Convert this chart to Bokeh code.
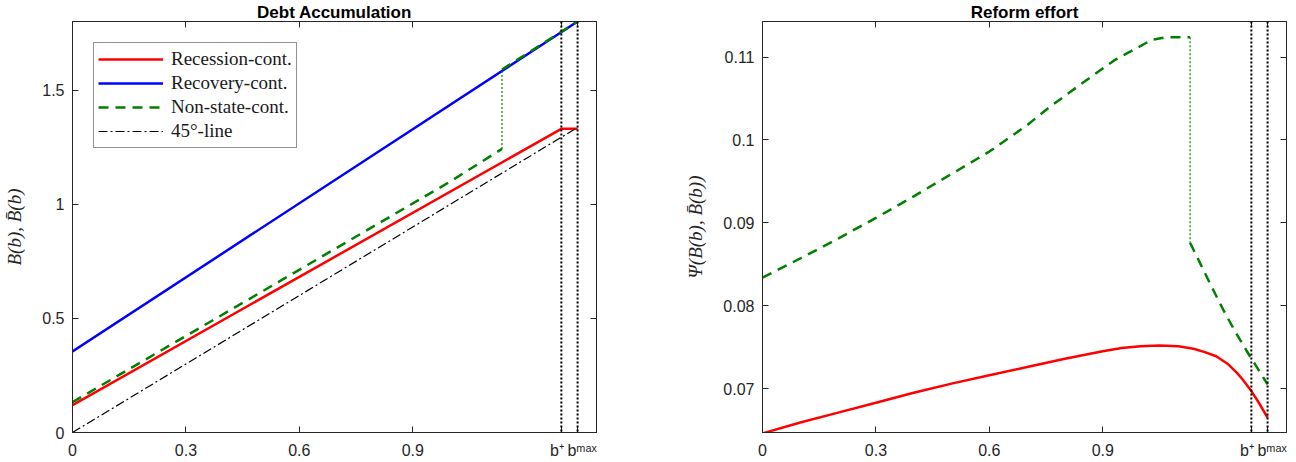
import numpy as np
from bokeh.plotting import figure
from bokeh.layouts import row
from bokeh.models import Range1d, FixedTicker, LinearAxis, Span, Legend, LegendItem
from bokeh.embed import file_html
from bokeh.resources import INLINE

# ---------------- data ----------------
b_plus = 1.293
b_max = 1.336
x_max = 1.386
NB = "\u00a0"
x_tick_values = [0.0, 0.3, 0.6, 0.9, b_plus, b_max]
x_tick_labels = ["0", "0.3", "0.6", "0.9", "b\u207a" + NB * 2,
                 NB * 2 + "b\u1d50\u1d43\u02e3"]

# Left panel: debt accumulation
rec_B_x = [0.0, b_plus, b_max]
rec_B_y = [0.120, 1.330, 1.330]
recov_B_x = [0.0, b_max]
recov_B_y = [0.355, 1.800]
ns_B_low_x = [0.0, 0.50, 1.00, 1.136]
ns_B_low_y = [0.133, 0.616, 1.100, 1.242]
ns_B_jump_x = [1.136, 1.136]
ns_B_jump_y = [1.242, 1.590]
ns_B_high_x = [1.136, b_max]
ns_B_high_y = [1.590, 1.800]
line45_x = [0.0, b_max]
line45_y = [0.0, b_max]
left_y_ticks = [0.0, 0.5, 1.0, 1.5]
left_y_labels = ["0", "0.5", "1", "1.5"]

# Right panel: reform effort
rec_psi_x = [0.0, 0.1, 0.2, 0.3, 0.4, 0.5, 0.6, 0.7, 0.8, 0.9, 0.95, 1.0, 1.05,
             1.1, 1.14, 1.17, 1.2, 1.23, 1.255, 1.27, 1.29, 1.31, b_max]
rec_psi_y = [0.0646, 0.0659, 0.0671, 0.0683, 0.0695, 0.0706, 0.0716, 0.0726,
             0.0736, 0.0745, 0.0749, 0.0751, 0.0752, 0.0751, 0.0748, 0.0744,
             0.0739, 0.0730, 0.0719, 0.0711, 0.0699, 0.0685, 0.0665]
ns_psi_high_x = [0.0, 0.1, 0.2, 0.3, 0.4, 0.5, 0.6, 0.7, 0.76, 0.85, 0.93,
                 0.97, 1.03, 1.07, 1.131]
ns_psi_high_y = [0.0834, 0.0857, 0.0881, 0.0906, 0.0932, 0.0959, 0.0986,
                 0.1018, 0.1040, 0.1070, 0.1096, 0.1106, 0.1121, 0.1124, 0.1124]
ns_psi_jump_x = [1.131, 1.131]
ns_psi_jump_y = [0.1124, 0.0876]
ns_psi_low_x = [1.131, 1.16, 1.19, 1.22, 1.25, 1.28, 1.31, b_max]
ns_psi_low_y = [0.0876, 0.0849, 0.0821, 0.0794, 0.0769, 0.0746, 0.0724, 0.0705]
right_y_ticks = [0.07, 0.08, 0.09, 0.10, 0.11]
right_y_labels = ["0.07", "0.08", "0.09", "0.1", "0.11"]
right_y_range = (0.0647, 0.1143)

# ---------------- styling ----------------
RED = "#ff0000"
BLUE = "#0000ff"
GREEN = "#008000"
AX = "#262626"
SANS = "Liberation Sans"
SERIF = "Liberation Serif"


def style_axes(p, yticks, ylabels, ylabel_text):
    xb = p.xaxis[0]
    yl = p.yaxis[0]
    xb.ticker = FixedTicker(ticks=x_tick_values)
    xb.major_label_overrides = dict(zip(x_tick_values, x_tick_labels))
    yl.ticker = FixedTicker(ticks=yticks)
    yl.major_label_overrides = dict(zip(yticks, ylabels))
    yl.axis_label = ylabel_text
    yl.axis_label_text_font = SERIF
    yl.axis_label_text_font_style = "italic"
    yl.axis_label_text_font_size = "19px"
    yl.axis_label_text_color = AX
    yl.axis_label_standoff = 14
    for ax in (xb, yl):
        ax.major_tick_in = 6
        ax.major_tick_out = 0
        ax.minor_tick_line_color = None
        ax.axis_line_color = AX
        ax.major_tick_line_color = AX
        ax.major_label_text_font = SANS
        ax.major_label_text_font_size = "16px"
        ax.major_label_text_color = AX
    xb.major_label_standoff = 9
    yl.major_label_standoff = 8
    # mirrored axes (ticks only)
    top = LinearAxis(ticker=FixedTicker(ticks=x_tick_values),
                     major_label_overrides={v: "" for v in x_tick_values})
    right = LinearAxis(ticker=FixedTicker(ticks=yticks),
                       major_label_overrides={v: "" for v in yticks})
    for ax in (top, right):
        ax.major_tick_in = 6
        ax.major_tick_out = 0
        ax.minor_tick_line_color = None
        ax.axis_line_color = AX
        ax.major_tick_line_color = AX
        ax.major_label_text_font_size = "0px"
        ax.major_label_standoff = 0
    p.add_layout(top, "above")
    p.add_layout(right, "right")
    p.xgrid.visible = False
    p.ygrid.visible = False
    p.outline_line_color = AX
    p.title.align = "center"
    p.title.text_font = SANS
    p.title.text_font_size = "17px"
    p.title.text_font_style = "bold"
    p.title.text_color = "#000000"
    p.title.standoff = 0
    for xv in (b_plus, b_max):
        p.add_layout(Span(location=xv, dimension="height", line_color="#000000",
                          line_width=2, line_dash="2 2"))


# ---------------- left figure ----------------
p1 = figure(width=648, height=462, x_range=Range1d(0, x_max),
            y_range=Range1d(0, recov_B_y[-1]), output_backend="svg",
            toolbar_location=None, title="Debt Accumulation",
            min_border_left=72, min_border_right=52,
            min_border_top=21, min_border_bottom=30)
style_axes(p1, left_y_ticks, left_y_labels, "B(b), B\u0304(b)")

r_rec = p1.line(rec_B_x, rec_B_y, line_color=RED, line_width=2.5)
r_recov = p1.line(recov_B_x, recov_B_y, line_color=BLUE, line_width=2.5)
r_ns = p1.line(ns_B_low_x, ns_B_low_y, line_color=GREEN, line_width=2.5,
               line_dash="10 7")
p1.line(ns_B_high_x, ns_B_high_y, line_color=GREEN, line_width=2.5,
        line_dash="10 7")
p1.line(ns_B_jump_x, ns_B_jump_y, line_color=GREEN, line_width=1.2,
        line_dash="2 2")
r_45 = p1.line(line45_x, line45_y, line_color="#000000", line_width=1.2,
               line_dash="9 3 2 3")

legend = Legend(items=[
    LegendItem(label="Recession-cont.", renderers=[r_rec]),
    LegendItem(label="Recovery-cont.", renderers=[r_recov]),
    LegendItem(label="Non-state-cont.", renderers=[r_ns]),
    LegendItem(label="45\u00b0-line", renderers=[r_45]),
], location="top_left")
legend.margin = 21
legend.padding = 4
legend.spacing = 0
legend.label_height = 24
legend.glyph_height = 24
legend.glyph_width = 65
legend.label_standoff = 8
legend.label_text_font = SERIF
legend.label_text_font_size = "19px"
legend.label_text_color = "#1a1a1a"
legend.border_line_color = AX
legend.border_line_width = 1
legend.background_fill_alpha = 1.0
p1.add_layout(legend, "center")

# ---------------- right figure ----------------
p2 = figure(width=648, height=462, x_range=Range1d(0, x_max),
            y_range=Range1d(*right_y_range), output_backend="svg",
            toolbar_location=None, title="Reform effort",
            min_border_left=114, min_border_right=10,
            min_border_top=21, min_border_bottom=30)
style_axes(p2, right_y_ticks, right_y_labels, "\u03a8(B(b), B\u0304(b))")

p2.line(rec_psi_x, rec_psi_y, line_color=RED, line_width=2.5)
p2.line(ns_psi_high_x, ns_psi_high_y, line_color=GREEN, line_width=2.5,
        line_dash="10 7")
p2.line(ns_psi_low_x, ns_psi_low_y, line_color=GREEN, line_width=2.5,
        line_dash="10 7")
p2.line(ns_psi_jump_x, ns_psi_jump_y, line_color=GREEN, line_width=1.2,
        line_dash="2 2")

layout = row(p1, p2)
open("out.html", "w").write(file_html(layout, INLINE))
